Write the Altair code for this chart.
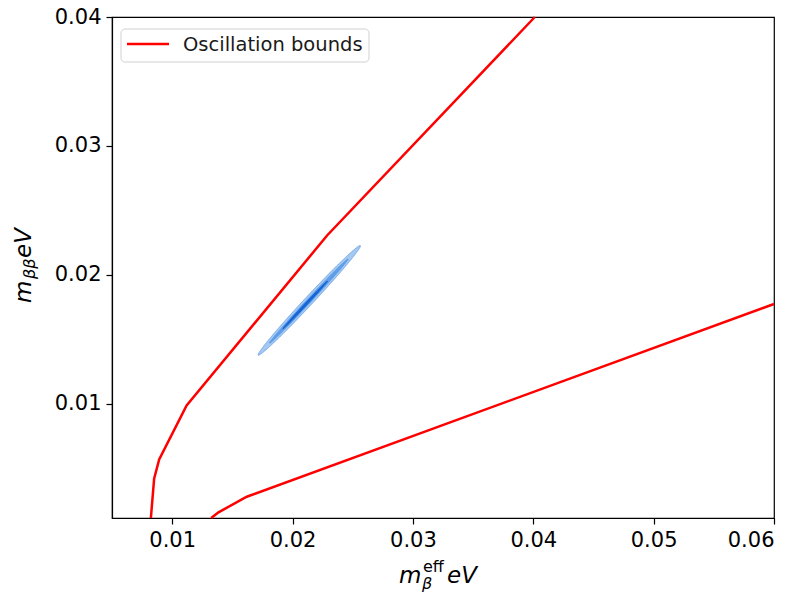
import numpy as np
import pandas as pd
import altair as alt

# ---- data ----
upper_x = [0.00823, 0.00850, 0.00892, 0.01120, 0.02287, 0.04013]
upper_y = [0.00116, 0.00420, 0.00570, 0.00988, 0.02306, 0.04000]
lower_x = [0.01324, 0.01385, 0.01620, 0.06000]
lower_y = [0.00116, 0.00160, 0.00281, 0.01775]

# nested confidence ellipses (centre, semi-major, semi-minor, angle in data space)
ell_cx = [0.02139, 0.02135, 0.02105]
ell_cy = [0.01803, 0.01798, 0.01768]
ell_a = [0.00600, 0.00460, 0.00260]
ell_b = [0.00034, 0.00017, 0.00009]
ell_fill = ["#a6c9f2", "#5e9ee8", "#1565d8"]
ell_stroke = ["#6fa6ea", "#5e9ee8", "#1565d8"]

x_ticks = [0.01, 0.02, 0.03, 0.04, 0.05, 0.06]
y_ticks = [0.01, 0.02, 0.03, 0.04]
x_domain = [0.005, 0.06]
y_domain = [0.00116, 0.04]
legend_label = "Oscillation bounds"

lines_df = pd.concat([
    pd.DataFrame({"x": upper_x, "y": upper_y, "branch": "upper", "o": range(len(upper_x))}),
    pd.DataFrame({"x": lower_x, "y": lower_y, "branch": "lower", "o": range(len(lower_x))}),
])


def ellipse_band(cx, cy, a, b):
    # vertical extent of a 45-degree-tilted ellipse at each x
    A = 1 / a**2 + 1 / b**2
    B = 1 / a**2 - 1 / b**2
    dxm = np.sqrt((a**2 + b**2) / 2)
    dx = dxm * np.sin(np.linspace(-np.pi / 2, np.pi / 2, 301))
    disc = np.clip(dx**2 * (B**2 - A**2) + 2 * A, 0, None)
    lo = (-dx * B - np.sqrt(disc)) / A
    hi = (-dx * B + np.sqrt(disc)) / A
    return pd.DataFrame({"x": cx + dx, "ylo": cy + lo, "yhi": cy + hi})


FONT = "DejaVu Sans"
xscale = alt.Scale(domain=x_domain, nice=False, zero=False)
yscale = alt.Scale(domain=y_domain, nice=False, zero=False)
xaxis = alt.Axis(values=x_ticks, format=".2f", title=None, grid=False)
yaxis = alt.Axis(values=y_ticks, format=".2f", title=None, grid=False)

layers = []
for cx, cy, a, b, f, s in zip(ell_cx, ell_cy, ell_a, ell_b, ell_fill, ell_stroke):
    layers.append(
        alt.Chart(ellipse_band(cx, cy, a, b)).mark_area(
            fill=f, stroke=s, strokeWidth=1.0, orient="vertical"
        ).encode(
            x=alt.X("x:Q", scale=xscale, axis=xaxis),
            y=alt.Y("ylo:Q", scale=yscale, axis=yaxis),
            y2="yhi:Q",
        )
    )

lines = alt.Chart(lines_df).mark_line(color="#ff0000", strokeWidth=2.5).encode(
    x=alt.X("x:Q", scale=xscale, axis=xaxis),
    y=alt.Y("y:Q", scale=yscale, axis=yaxis),
    detail="branch:N",
    order="o:Q",
)
layers.append(lines)

one = pd.DataFrame({"k": [0]})

# legend (drawn by hand, matplotlib style)
leg_box = alt.Chart(one).mark_rect(
    fill="white", stroke="#cccccc", strokeWidth=1, cornerRadius=4, opacity=0.9
).encode(x=alt.value(9), x2=alt.value(257), y=alt.value(12), y2=alt.value(45))
leg_line = alt.Chart(one).mark_rule(color="#ff0000", strokeWidth=2.5).encode(
    x=alt.value(15), x2=alt.value(57), y=alt.value(27)
)
leg_text = alt.Chart(one).mark_text(
    text=legend_label, font=FONT, fontSize=19.5, align="left", baseline="middle", color="#1a1a1a"
).encode(x=alt.value(71), y=alt.value(28))
layers += [leg_box, leg_line, leg_text]


def txt(s, x, y, size, angle=0, style="italic"):
    return alt.Chart(one).mark_text(
        text=s, font=FONT, fontSize=size, fontStyle=style, align="left",
        baseline="alphabetic", angle=angle, color="black"
    ).encode(x=alt.value(x), y=alt.value(y))


# x-axis title: m_beta^eff eV
layers += [
    txt("m", 287, 566, 23),
    txt("eff", 311, 555, 16, style="normal"),
    txt("β", 310, 572, 16),
    txt("eV", 335, 566, 23),
]
# y-axis title: m_{beta beta} eV (rotated)
layers += [
    txt("m", -81.5, 286, 23, 270),
    txt("ββ", -77, 262, 16, 270),
    txt("eV", -81.5, 241, 23, 270),
]

chart = alt.layer(*layers).properties(
    width=662,
    height=501,
    autosize=alt.AutoSizeParams(type="none"),
    padding={"left": 112, "top": 17, "right": 24, "bottom": 78},
).configure_view(
    stroke="black", strokeWidth=1.2
).configure_axis(
    domainColor="black", domainWidth=1.2, tickColor="black", tickWidth=1.2,
    tickSize=6, labelFont=FONT, labelFontSize=21, labelColor="black",
    labelPadding=5,
)

chart.save("out.html", embed_options={"renderer": "svg", "actions": False})
